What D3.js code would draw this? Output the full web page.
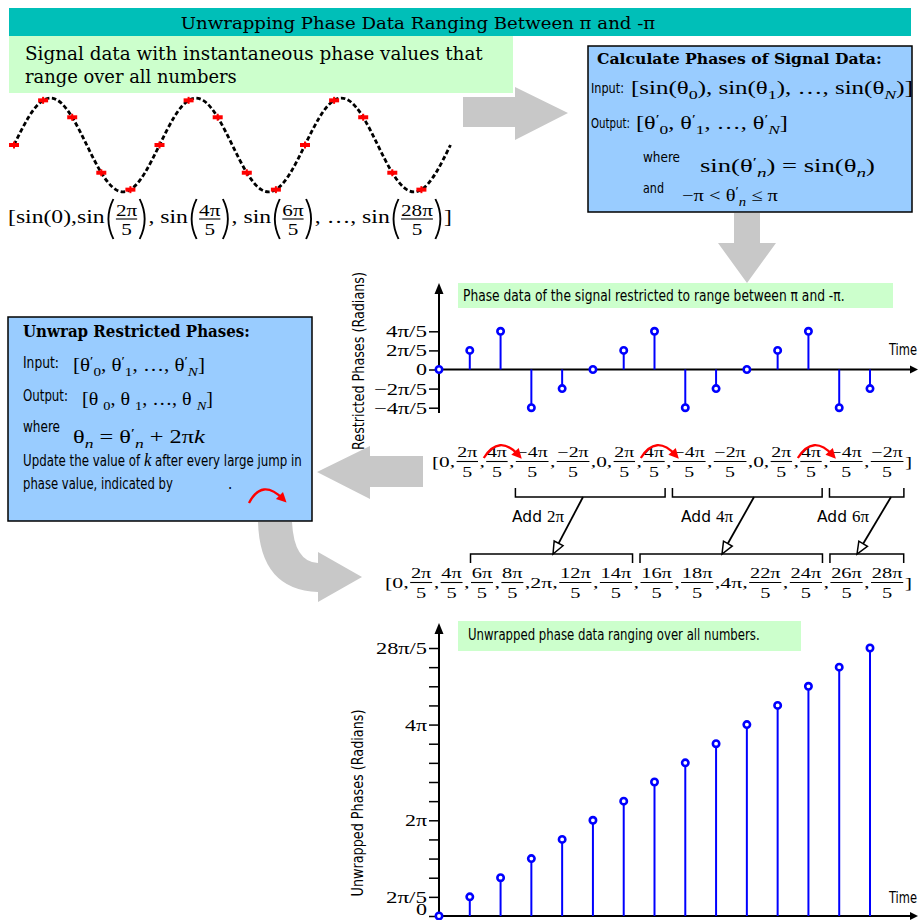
<!DOCTYPE html>
<html><head><meta charset="utf-8">
<script src="https://cdn.jsdelivr.net/npm/d3@7"></script>
<style>body{margin:0;background:#fff}svg{display:block}</style>
</head><body>
<script>
// ---------------- DATA ----------------
const sampleSteps = [0,1,2,3,4,5,6,7,8,9,10,11,12,13,14];
const signalSamples = [0,0.95,0.59,-0.59,-0.95,0,0.95,0.59,-0.59,-0.95,0,0.95,0.59,-0.59,-0.95];
const curveSteps = [0,0.5,1,1.5,2,2.5,3,3.5,4,4.5,5,5.5,6,6.5,7,7.5,8,8.5,9,9.5,10,10.5,11,11.5,12,12.5,13,13.5,14,14.5,15];
const curveValues = [0,0.59,0.95,0.95,0.59,0,-0.59,-0.95,-0.95,-0.59,
                     0,0.59,0.95,0.95,0.59,0,-0.59,-0.95,-0.95,-0.59,
                     0,0.59,0.95,0.95,0.59,0,-0.59,-0.95,-0.95,-0.59,0];
// phases in units of pi/5
const restrictedPhases = [0,2,4,-4,-2,0,2,4,-4,-2,0,2,4,-4,-2];
const unwrappedPhases  = [0,2,4,6,8,10,12,14,16,18,20,22,24,26,28];
const restrictedTickValues = [-4,-2,0,2,4];
const restrictedTickLabels = ["−4π/5","−2π/5","0","2π/5","4π/5"];
const unwrappedTickValues = [0,2,4,6,8,10,12,14,16,18,20,22,24,26,28];
const unwrappedLabelValues = [0,2,10,20,28];
const unwrappedLabelTexts  = ["0","2π/5","2π","4π","28π/5"];
const addLabels = ["2π","4π","6π"];

// ---------------- SETUP ----------------
const MATH = "'Liberation Serif','DejaVu Serif',serif";
const SERIF = "'DejaVu Serif','Liberation Serif',serif";
const COND = "'Liberation Sans Narrow','DejaVu Sans Condensed','Roboto','Liberation Sans',sans-serif";
const BLUE = "#0000FF", GRAY = "#C8C8C8", LBLUE = "#99CCFF", LGREEN = "#CCFFCC", TEAL = "#00BFB8";

const svg = d3.select("body").append("svg").attr("width",918).attr("height",920);

function label(p, o) {
  const g = p.append("g").attr("transform", `translate(${o.x},${o.y})${o.rot?` rotate(${o.rot})`:""}`);
  const t = g.append("text").attr("font-family", o.font).attr("font-size", o.size)
    .attr("font-weight", o.weight||null).attr("text-anchor", o.anchor||"start").attr("fill", o.fill||"#000");
  const segs = Array.isArray(o.text) ? o.text : [o.text];
  let cur = 0;
  segs.forEach(s => {
    if (typeof s === "string") s = {t:s};
    const ts = t.append("tspan").text(s.t);
    const off = s.sub ? o.size*0.3 : (s.sup ? -o.size*0.35 : 0);
    ts.attr("dy", off - cur); cur = off;
    if (s.sub || s.sup) ts.attr("font-size", o.size*0.72);
    if (s.font) ts.attr("font-family", s.font);
    if (s.size) ts.attr("font-size", s.size);
    if (s.it) ts.attr("font-style","italic");
  });
  if (o.w) { const w = t.node().getComputedTextLength(); t.attr("transform", `scale(${o.w/w},1)`); }
  return g;
}

function mathRow(p, o) {
  const g = p.append("g").attr("transform", `translate(${o.x},${o.y})`);
  const inner = g.append("g");
  let cx = 0; const ext = [];
  o.pieces.forEach(pc => {
    if (pc.t != null) {
      const t = inner.append("text").attr("x", cx).attr("y", 0).attr("font-family", MATH).attr("font-size", o.size).text(pc.t);
      const w = t.node().getComputedTextLength();
      if (pc.e != null) ext[pc.e] = [cx, cx + w];
      cx += w;
    } else {
      const pw = pc.paren ? 8 : 0;
      const start = cx;
      cx += pw;
      const tn = inner.append("text").attr("font-family", MATH).attr("font-size", o.fracSize).attr("text-anchor","middle").text(pc.n);
      const td = inner.append("text").attr("font-family", MATH).attr("font-size", o.fracSize).attr("text-anchor","middle").text(pc.d);
      const w = Math.max(tn.node().getComputedTextLength(), td.node().getComputedTextLength()) + 2*o.fracPad;
      tn.attr("x", cx + w/2).attr("y", o.numDy);
      td.attr("x", cx + w/2).attr("y", o.denDy);
      inner.append("line").attr("x1", cx + 1).attr("x2", cx + w - 1).attr("y1", o.barDy).attr("y2", o.barDy)
        .attr("stroke","#000").attr("stroke-width", 1.1);
      cx += w;
      if (pc.paren) {
        inner.append("path").attr("d", `M${start+7},${o.parTop} Q${start-1},${(o.parTop+o.parBot)/2} ${start+7},${o.parBot}`)
          .attr("fill","none").attr("stroke","#000").attr("stroke-width",1.5);
        inner.append("path").attr("d", `M${cx+1},${o.parTop} Q${cx+9},${(o.parTop+o.parBot)/2} ${cx+1},${o.parBot}`)
          .attr("fill","none").attr("stroke","#000").attr("stroke-width",1.5);
        cx += pw;
      }
      if (pc.e != null) ext[pc.e] = [start, cx];
    }
  });
  const k = o.w / cx;
  inner.attr("transform", `scale(${k},1)`);
  return ext.map(e => e ? [o.x + e[0]*k, o.x + e[1]*k] : null);
}

function phasePieces(vals) {
  const pcs = [{t:"["}];
  vals.forEach((v, i) => {
    if (v === 0) pcs.push({t:"0", e:i});
    else if (v % 5 === 0) pcs.push({t:(v/5)+"π", e:i});
    else pcs.push({n:(v<0?"−":"") + Math.abs(v) + "π", d:"5", e:i});
    pcs.push({t: i < vals.length-1 ? ", " : "]"});
  });
  return pcs;
}

function arcArrow(x1,y1,cx,cy,x2,y2) {
  svg.append("path").attr("d",`M${x1},${y1} Q${cx},${cy} ${x2},${y2}`).attr("fill","none")
    .attr("stroke","#FF0000").attr("stroke-width",2.3);
  const a = Math.atan2(y2-cy, x2-cx), L = 10, Wd = 5;
  const tx = x2 + Math.cos(a)*5, ty = y2 + Math.sin(a)*5;
  const bx = tx - Math.cos(a)*L, by = ty - Math.sin(a)*L;
  svg.append("path").attr("d",`M${tx},${ty} L${bx - Math.sin(a)*Wd},${by + Math.cos(a)*Wd} L${bx + Math.sin(a)*Wd},${by - Math.cos(a)*Wd} Z`)
    .attr("fill","#FF0000");
}

function openArrow(x1,y1,x2,y2) {
  const a = Math.atan2(y2-y1, x2-x1), L = 12, Wd = 5;
  const bx = x2 - Math.cos(a)*L, by = y2 - Math.sin(a)*L;
  svg.append("line").attr("x1",x1).attr("y1",y1).attr("x2",bx).attr("y2",by).attr("stroke","#000").attr("stroke-width",1.8);
  svg.append("path").attr("d",`M${x2},${y2} L${bx - Math.sin(a)*Wd},${by + Math.cos(a)*Wd} L${bx + Math.sin(a)*Wd},${by - Math.cos(a)*Wd} Z`)
    .attr("fill","#fff").attr("stroke","#000").attr("stroke-width",1.5);
}

const P = {t:"′", sup:true};
function th(sub, it) { return ["θ", P, {t:sub, sub:true, it:!!it}]; }

// ---------------- BANNER ----------------
svg.append("rect").attr("x",9).attr("y",8).attr("width",902).attr("height",28).attr("fill",TEAL);
label(svg,{x:418,y:29,text:"Unwrapping Phase Data Ranging Between π and -π",font:SERIF,size:17,anchor:"middle",w:475});

svg.append("rect").attr("x",9).attr("y",36).attr("width",504).attr("height",57).attr("fill",LGREEN);
label(svg,{x:25,y:60,text:"Signal data with instantaneous phase values that",font:SERIF,size:18,w:458});
label(svg,{x:25,y:83,text:"range over all numbers",font:SERIF,size:18,w:212});

// ---------------- SIGNAL ----------------
const sx = d3.scaleLinear().domain([0,15]).range([14,450.5]);
const sy = d3.scaleLinear().domain([-1,1]).range([192,98]);
const curveData = curveSteps.map((t,i)=>({t, v:curveValues[i]}));
svg.append("path").datum(curveData)
  .attr("d", d3.line().x(d=>sx(d.t)).y(d=>sy(d.v)).curve(d3.curveNatural))
  .attr("fill","none").attr("stroke","#000").attr("stroke-width",2.8).attr("stroke-dasharray","4.5 2.5");
svg.append("g").selectAll("rect").data(sampleSteps).join("rect")
  .attr("x", d=>sx(d)-5).attr("y", (d,i)=>sy(signalSamples[i])-2).attr("width",10).attr("height",4).attr("fill","#FF0000");
svg.append("g").selectAll("rect").data(sampleSteps).join("rect")
  .attr("x", d=>sx(d)-1).attr("y", (d,i)=>sy(signalSamples[i])-3.5).attr("width",2).attr("height",7).attr("fill","#FF0000");

mathRow(svg,{x:8,y:223,w:444,size:19,fracSize:17,fracPad:1,numDy:-7,barDy:-4,denDy:12,parTop:-24,parBot:16,
  pieces:[{t:"["},{t:"sin(0),"},{t:"sin"},{n:"2π",d:"5",paren:true},{t:", sin"},{n:"4π",d:"5",paren:true},
          {t:", sin"},{n:"6π",d:"5",paren:true},{t:", …, sin"},{n:"28π",d:"5",paren:true},{t:"]"}]});

// ---------------- GRAY ARROWS ----------------
svg.append("path").attr("d","M463,97 L515,97 L515,87 L568,113 L515,140 L515,127 L463,127 Z").attr("fill",GRAY);
svg.append("path").attr("d","M734,213 L760,213 L760,243 L776,243 L747,283 L718,243 L734,243 Z").attr("fill",GRAY);
svg.append("path").attr("d","M423,456 L370,456 L370,446 L317,472 L370,499 L370,487 L423,487 Z").attr("fill",GRAY);
svg.append("path").attr("d","M258,522 L292,522 Q294,562 318,563 L318,552 L362,577 L318,602 L318,592 Q260,590 258,522 Z").attr("fill",GRAY);

// ---------------- RIGHT BLUE BOX ----------------
svg.append("rect").attr("x",588).attr("y",46).attr("width",324).attr("height",166).attr("fill",LBLUE).attr("stroke","#000").attr("stroke-width",1.5);
label(svg,{x:597,y:64,text:"Calculate Phases of Signal Data:",font:SERIF,size:15,weight:"bold",w:285});
label(svg,{x:591,y:93,text:"Input:",font:COND,size:14,w:33});
label(svg,{x:631,y:94,text:["[sin(θ",{t:"0",sub:true},"), sin(θ",{t:"1",sub:true},"), …, sin(θ",{t:"N",sub:true,it:true},")]"],font:MATH,size:18,w:282});
label(svg,{x:591,y:128,text:"Output:",font:COND,size:14,w:39});
label(svg,{x:636,y:129,text:["[",...th("0"),", ",...th("1"),", …, ",...th("N",true),"]"],font:MATH,size:18,w:152});
label(svg,{x:643,y:162,text:"where",font:COND,size:14,w:37});
label(svg,{x:700,y:172,text:["sin(",...th("n",true),")  =  sin(θ",{t:"n",sub:true,it:true},")"],font:MATH,size:18,w:175});
label(svg,{x:643,y:193,text:"and",font:COND,size:14,w:21});
label(svg,{x:682,y:201,text:["−π < ",...th("n",true)," ≤ π"],font:MATH,size:17,w:96});

// ---------------- LEFT BLUE BOX ----------------
svg.append("rect").attr("x",8).attr("y",317).attr("width",304).attr("height",204).attr("fill",LBLUE).attr("stroke","#000").attr("stroke-width",1.5);
label(svg,{x:23,y:337,text:"Unwrap Restricted Phases:",font:SERIF,size:16,weight:"bold",w:227});
label(svg,{x:23,y:368,text:"Input:",font:COND,size:15,w:36});
label(svg,{x:73,y:371,text:["[",...th("0"),", ",...th("1"),", …, ",...th("N",true),"]"],font:MATH,size:18,w:132});
label(svg,{x:23,y:401,text:"Output:",font:COND,size:15,w:45});
label(svg,{x:82,y:405,text:["[θ ",{t:"0",sub:true},", θ ",{t:"1",sub:true},", …, θ ",{t:"N",sub:true,it:true},"]"],font:MATH,size:18,w:131});
label(svg,{x:23,y:432,text:"where",font:COND,size:15,w:37});
label(svg,{x:73,y:443,text:["θ",{t:"n",sub:true,it:true},"  =  ",...th("n",true)," + 2π",{t:"k",it:true}],font:MATH,size:18,w:132});
label(svg,{x:23,y:466,text:["Update the value of ",{t:"k",font:MATH,it:true,size:19}," after every large jump in"],font:COND,size:15,w:279});
label(svg,{x:23,y:489,text:"phase value, indicated by",font:COND,size:15,w:150});
label(svg,{x:228,y:489,text:".",font:COND,size:15});
arcArrow(249,503,262,478,283,499);

// ---------------- STEM PLOTS ----------------
const xS = d3.scaleLinear().domain([0,14]).range([439,870]);
const yR = d3.scaleLinear().domain([-4,4]).range([407.7,331.3]);
const yU = d3.scaleLinear().domain([0,28]).range([916,648]);

const tickW = {"4π/5":41,"2π/5":41,"0":11,"−2π/5":53,"−4π/5":53,"28π/5":51,"4π":22,"2π":22};

function stemPlot(yScale, values, tickVals, tickFmt, axisTop, axisBottom) {
  const g = svg.append("g");
  const y0 = yScale(0);
  const ag = g.append("g").attr("transform",`translate(${xS(0)},0)`)
    .call(d3.axisLeft(yScale).tickValues(tickVals).tickFormat(tickFmt).tickSize(10).tickPadding(2));
  ag.select(".domain").remove();
  ag.selectAll(".tick line").attr("stroke","#000").attr("stroke-width",1.5);
  ag.selectAll(".tick text").attr("font-family",MATH).attr("font-size",17).attr("fill","#000")
    .each(function(){ const s = d3.select(this).text(); if (tickW[s]) d3.select(this).attr("textLength",tickW[s]).attr("lengthAdjust","spacingAndGlyphs"); });
  g.append("line").attr("x1",xS(0)).attr("x2",xS(0)).attr("y1",axisBottom).attr("y2",axisTop+8).attr("stroke","#000").attr("stroke-width",2);
  g.append("path").attr("d",`M${xS(0)},${axisTop} l-4.5,11 h9 Z`).attr("fill","#000");
  g.append("line").attr("x1",xS(0)).attr("x2",912).attr("y1",y0).attr("y2",y0).attr("stroke","#000").attr("stroke-width",2);
  g.append("path").attr("d",`M918,${y0} l-8,-4 v8 Z`).attr("fill","#000");
  g.append("g").selectAll("line").data(values).join("line")
    .attr("x1",(d,i)=>xS(sampleSteps[i])).attr("x2",(d,i)=>xS(sampleSteps[i]))
    .attr("y1",y0).attr("y2",d=>yScale(d)).attr("stroke",BLUE).attr("stroke-width",2);
  g.append("g").selectAll("circle").data(values).join("circle")
    .attr("cx",(d,i)=>xS(sampleSteps[i])).attr("cy",d=>yScale(d)).attr("r",3.2)
    .attr("fill","#fff").attr("stroke",BLUE).attr("stroke-width",2.6);
  return ag;
}

svg.append("rect").attr("x",458).attr("y",283).attr("width",435).attr("height",25).attr("fill",LGREEN);
label(svg,{x:463,y:301,text:"Phase data of the signal restricted to range between π and -π.",font:COND,size:15,w:382});
stemPlot(yR, restrictedPhases, restrictedTickValues, d=>restrictedTickLabels[restrictedTickValues.indexOf(d)], 283, 413);
label(svg,{x:364,y:361,rot:-90,text:"Restricted Phases (Radians)",font:COND,size:15,anchor:"middle",w:178});
label(svg,{x:889,y:355,text:"Time",font:COND,size:15,w:28});

// ---------------- ARRAY ROWS ----------------
const rowOpts = {size:15,fracSize:14,fracPad:1.5,numDy:-10,barDy:-5.5,denDy:10,parTop:0,parBot:0};
const ext1 = mathRow(svg, Object.assign({x:432,y:467,w:480,pieces:phasePieces(restrictedPhases)}, rowOpts));
const ext2 = mathRow(svg, Object.assign({x:385,y:588,w:527,pieces:phasePieces(unwrappedPhases)}, rowOpts));

[[2,3],[7,8],[12,13]].forEach(([a,b]) => {
  const x1 = ext1[a][0] - 1, x2 = ext1[b][0] + 4;
  arcArrow(x1, 458, (x1+x2)/2 - 2, 434, x2, 455);
});

const groups = [[3,7],[8,12],[13,14]];
groups.forEach(([a,b]) => {
  const x1 = ext1[a][0] + 1, x2 = ext1[b][1] - 1;
  svg.append("path").attr("d",`M${x1},488 V497 H${x2} V488`).attr("fill","none").attr("stroke","#000").attr("stroke-width",1.5);
  const u1 = ext2[a][0] + 1, u2 = ext2[b][1] - 1;
  svg.append("path").attr("d",`M${u1},563 V554 H${u2} V563`).attr("fill","none").attr("stroke","#000").attr("stroke-width",1.5);
});

const addX = [512,681,817];
addLabels.forEach((s,i) => {
  label(svg,{x:addX[i],y:522,text:"Add",font:COND,size:15,w:30});
  label(svg,{x:addX[i]+35,y:522,text:s,font:MATH,size:17});
});
openArrow(583,497,553,554);
openArrow(754,497,722,554);
openArrow(891,497,857,554);

// ---------------- UNWRAPPED STEM PLOT ----------------
svg.append("rect").attr("x",458).attr("y",621).attr("width",343).attr("height",30).attr("fill",LGREEN);
label(svg,{x:468,y:640,text:"Unwrapped phase data ranging over all numbers.",font:COND,size:16,w:292});
const agU = stemPlot(yU, unwrappedPhases, unwrappedTickValues, d=>{ const i = unwrappedLabelValues.indexOf(d); return i<0 ? "" : unwrappedLabelTexts[i]; }, 623, 916);
agU.selectAll(".tick text").filter(d => d === 0).attr("dy","-0.08em");
label(svg,{x:363,y:803,rot:-90,text:"Unwrapped Phases (Radians)",font:COND,size:15,anchor:"middle",w:187});
label(svg,{x:889,y:903,text:"Time",font:COND,size:15,w:28});
</script>
</body></html>
